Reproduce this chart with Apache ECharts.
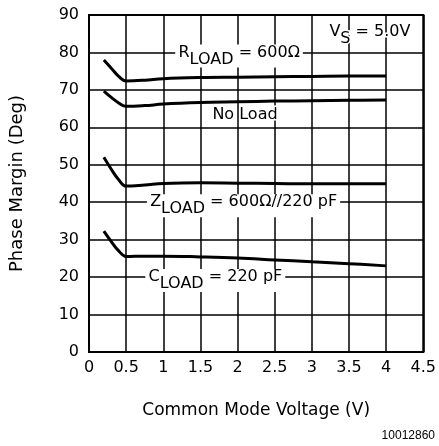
<!DOCTYPE html>
<html>
<head>
<meta charset="utf-8">
<script src="https://cdn.jsdelivr.net/npm/echarts@6/dist/echarts.min.js"></script>
<style>
  html, body { margin: 0; padding: 0; background: #fff; }
  #chart { width: 439px; height: 446px; }
</style>
</head>
<body>
<div id="chart"></div>
<script>
// common mode voltage (V)
const xVals = [0.2, 0.3, 0.4, 0.5, 0.75, 1, 1.5, 2, 2.5, 3, 3.5, 4]
// phase margin (deg) per load
const rLoad  = [78, 75.8, 73.6, 72.4, 72.6, 73, 73.3, 73.4, 73.5, 73.6, 73.7, 73.7]
const noLoad = [69.7, 68, 66.5, 65.6, 65.8, 66.2, 66.6, 66.8, 67, 67.1, 67.2, 67.3]
const zLoad  = [52, 48.8, 46, 44.3, 44.6, 45, 45.2, 45.1, 45, 44.9, 44.9, 44.9]
const cLoad  = [32.3, 29.5, 27, 25.5, 25.6, 25.6, 25.4, 25.1, 24.6, 24.1, 23.6, 23.0]

const font = 'DejaVu Sans, sans-serif'

function pairs(ys) { return xVals.map((x, i) => [x, ys[i]]) }

// label with subscript: main text sits on the line, subscript hangs below
function subLabel(main, sub, rest, bg) {
  const txt = { fontFamily: font, fontSize: 16, color: '#000', lineHeight: 16, textBorderColor: '#fff', textBorderWidth: bg ? 0 : 3 }
  return {
    show: true,
    position: 'inside',
    offset: [0, 3.5],
    formatter: `{e| }{n|${main}}{s|${sub}}{n|${rest}}`,
    backgroundColor: bg ? '#fff' : 'transparent',
    padding: [0, 3],
    rich: {
      e: { fontSize: 1, lineHeight: 23, verticalAlign: 'top' },
      n: { ...txt, verticalAlign: 'top' },
      s: { ...txt, verticalAlign: 'bottom' },
    },
  }
}

function mark(x, y, label) {
  return { data: [{ coord: [x, y], symbolSize: 0, label }], symbol: 'circle', itemStyle: { color: 'transparent' }, animation: false }
}

function curve(ys, mp) {
  return {
    type: 'line', data: pairs(ys), smooth: 0.4, showSymbol: false,
    lineStyle: { color: '#000', width: 3 }, markPoint: mp, z: 3,
  }
}

const chart = echarts.init(document.getElementById('chart'))
chart.setOption({
  animation: false,
  grid: { left: 88, top: 15, right: 14, bottom: 94, show: true, borderColor: '#000', borderWidth: 2 },
  xAxis: {
    type: 'value', min: 0, max: 4.5, interval: 0.5,
    name: 'Common Mode Voltage (V)', nameLocation: 'middle', nameGap: 50,
    nameTextStyle: { fontFamily: font, fontSize: 17, color: '#000' },
    axisLine: { show: true, lineStyle: { color: '#000', width: 2 } },
    axisTick: { show: false },
    axisLabel: { color: '#000', fontFamily: font, fontSize: 16, margin: 8 },
    splitLine: { show: true, lineStyle: { color: '#000', width: 1.5 } },
  },
  yAxis: {
    type: 'value', min: 0, max: 90, interval: 10,
    name: 'Phase Margin (Deg)', nameLocation: 'middle', nameGap: 63,
    nameTextStyle: { fontFamily: font, fontSize: 18, color: '#000' },
    axisLine: { show: true, lineStyle: { color: '#000', width: 2 } },
    axisTick: { show: false },
    axisLabel: { color: '#000', fontFamily: font, fontSize: 16, margin: 10 },
    splitLine: { show: true, lineStyle: { color: '#000', width: 1.5 } },
  },
  series: [
    curve(rLoad, mark(2.02, 80, subLabel('R', 'LOAD', ' = 600Ω', true))),
    curve(noLoad, mark(2.1, 63.3, {
      show: true, position: 'inside', formatter: 'No Load',
      fontFamily: font, fontSize: 16, color: '#000', textBorderColor: '#fff', textBorderWidth: 3,
    })),
    curve(zLoad, mark(2.08, 40, subLabel('Z', 'LOAD', ' = 600Ω//220 pF', true))),
    curve(cLoad, mark(1.7, 20, subLabel('C', 'LOAD', ' = 220 pF', true))),
    {
      type: 'line', data: [], markPoint: mark(3.78, 85.5, subLabel('V', 'S', ' = 5.0V', false)),
    },
  ],
  graphic: [{
    type: 'text', right: 4, top: 430,
    style: { text: '10012860', fontFamily: 'Liberation Sans, Arial, sans-serif', fontSize: 12, fill: '#000' },
  }],
})
</script>
</body>
</html>
